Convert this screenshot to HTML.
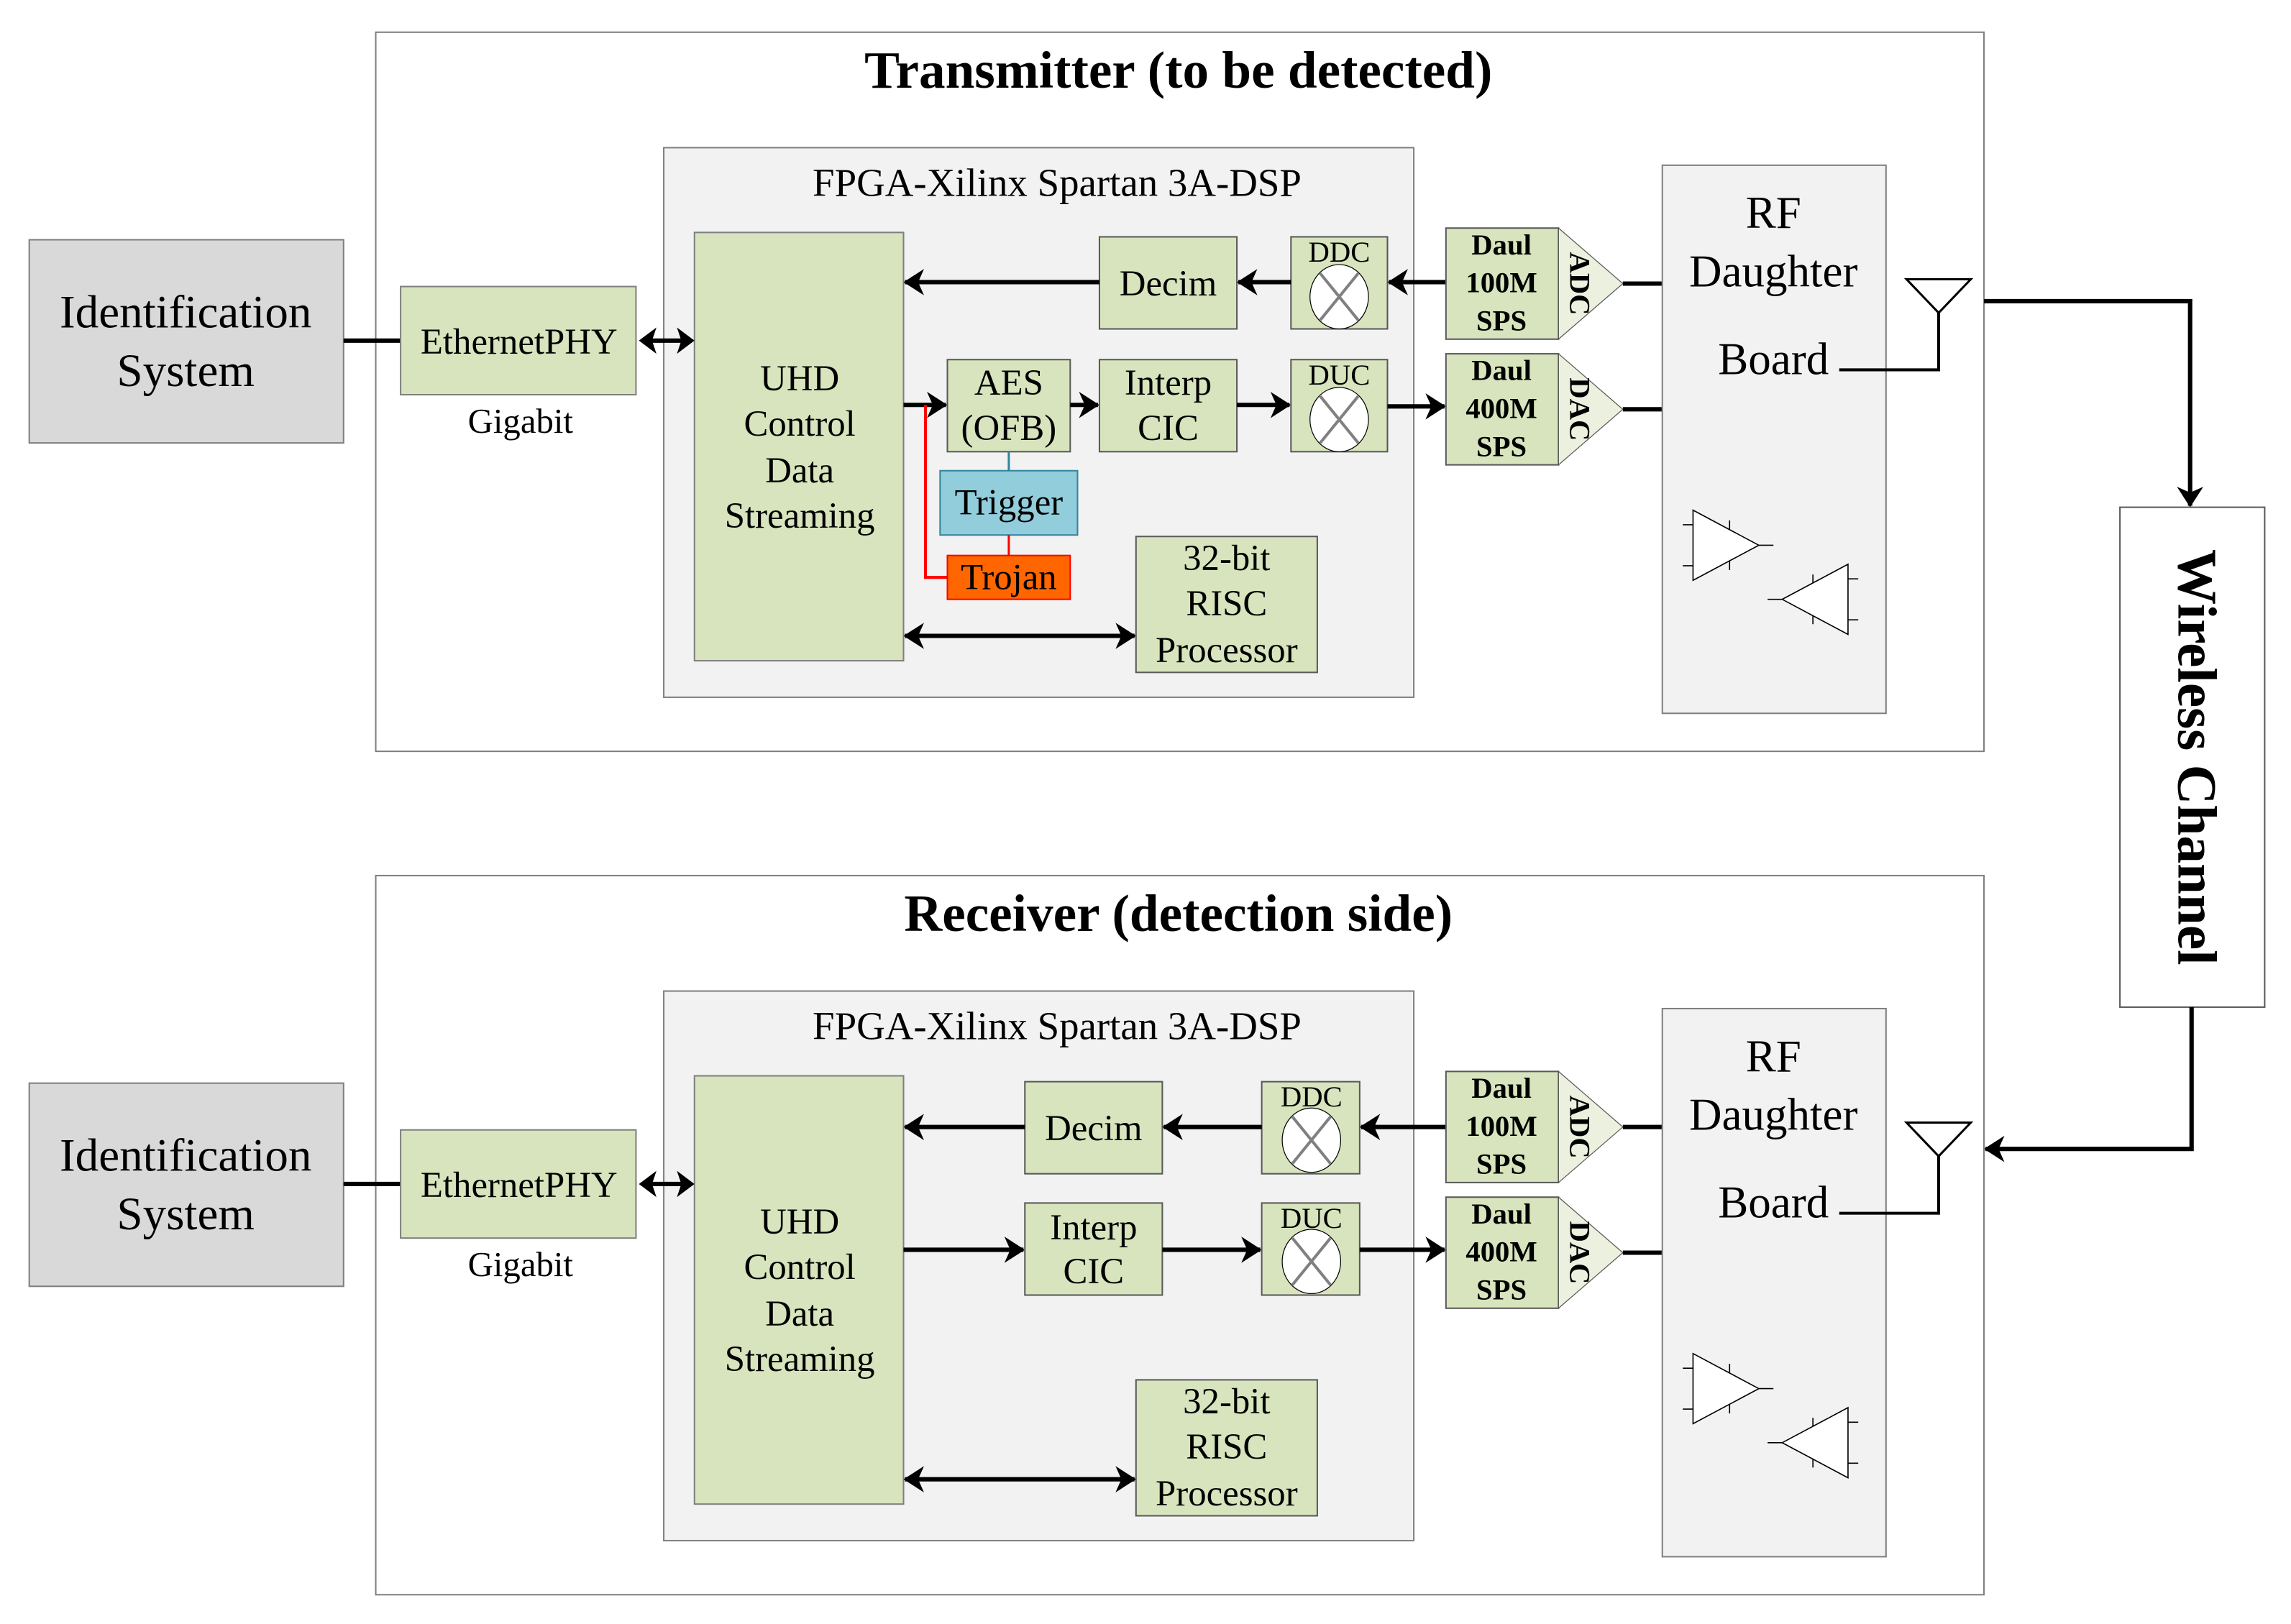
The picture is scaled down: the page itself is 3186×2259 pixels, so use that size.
<!DOCTYPE html>
<html><head><meta charset="utf-8"><style>
html,body{margin:0;padding:0;background:#fff;}
svg{display:block;}
text{font-family:"Liberation Serif",serif;fill:#000;}
</style></head><body>
<svg width="3186" height="2259" viewBox="0 0 1567 1111" xmlns="http://www.w3.org/2000/svg">
<defs>
<marker id="a" markerUnits="userSpaceOnUse" markerWidth="14" markerHeight="18" refX="13" refY="9" orient="auto"><path d="M0,0 L14,9 L0,18 L4,9 Z" fill="#000"/></marker>
<marker id="s" markerUnits="userSpaceOnUse" markerWidth="14" markerHeight="18" refX="1" refY="9" orient="auto"><path d="M14,0 L0,9 L14,18 L10,9 Z" fill="#000"/></marker>
<g id="mix"><ellipse cx="0" cy="0" rx="20" ry="22" fill="#fff" stroke="#000" stroke-width="0.6"/><path d="M-13,-16 L13,16 M13,-16 L-13,16" stroke="#808080" stroke-width="2"/></g>
<g id="amps" fill="#fff" stroke="#000" stroke-width="0.8">
<path d="M1158,349 L1203,373 L1158,397 Z"/><path d="M1151,359 H1158 M1151,387 H1158 M1203,373 H1213 M1183,356 V362 M1183,384 V390" fill="none"/>
<path d="M1264,386 L1219,410 L1264,434 Z"/><path d="M1264,396 H1271 M1264,424 H1271 M1209,410 H1219 M1240,393 V399 M1240,421 V427" fill="none"/>
</g>
<g id="dbl"><line x1="445" y1="0" x2="467" y2="0" stroke="#000" stroke-width="3"/><path d="M437,0 L449,-9 L446,0 L449,9 Z M475,0 L463,-9 L466,0 L463,9 Z" fill="#000"/></g>
</defs>

<!-- ============ TRANSMITTER ============ -->
<rect x="257" y="22" width="1100" height="492" fill="#fff" stroke="#7f7f7f" stroke-width="1"/>
<text x="806" y="60" font-size="36" font-weight="bold" text-anchor="middle">Transmitter (to be detected)</text>
<rect x="20" y="164" width="215" height="139" fill="#d9d9d9" stroke="#7f7f7f"/>
<text x="127" y="224" font-size="32" text-anchor="middle">Identification</text>
<text x="127" y="264" font-size="32" text-anchor="middle">System</text>
<line x1="235" y1="233" x2="274" y2="233" stroke="#000" stroke-width="3"/>
<rect x="274" y="196" width="161" height="74" fill="#d7e4bd" stroke="#7f7f7f"/>
<text x="355" y="242" font-size="25" text-anchor="middle">EthernetPHY</text>
<text x="356" y="296" font-size="24" text-anchor="middle">Gigabit</text>
<rect x="454" y="101" width="513" height="376" fill="#f2f2f2" stroke="#7f7f7f"/>
<text x="723" y="134" font-size="27" text-anchor="middle">FPGA-Xilinx Spartan 3A-DSP</text>
<rect x="475" y="159" width="143" height="293" fill="#d7e4bd" stroke="#7f7f7f"/>
<use href="#dbl" y="233"/>
<g font-size="25" text-anchor="middle"><text x="547" y="267">UHD</text><text x="547" y="298">Control</text><text x="547" y="330">Data</text><text x="547" y="361">Streaming</text></g>
<rect x="752" y="162" width="94" height="63" fill="#d7e4bd" stroke="#595959"/>
<text x="799" y="202" font-size="25" text-anchor="middle">Decim</text>
<line x1="752" y1="193" x2="619" y2="193" stroke="#000" stroke-width="3" marker-end="url(#a)"/>
<rect x="883" y="162" width="66" height="63" fill="#d7e4bd" stroke="#595959"/>
<text x="916" y="179" font-size="20" text-anchor="middle">DDC</text>
<use href="#mix" x="916" y="203"/>
<line x1="883" y1="193" x2="847" y2="193" stroke="#000" stroke-width="3" marker-end="url(#a)"/>
<line x1="989" y1="193" x2="950" y2="193" stroke="#000" stroke-width="3" marker-end="url(#a)"/>
<rect x="989" y="156" width="77" height="76" fill="#d7e4bd" stroke="#595959"/>
<g font-size="20" font-weight="bold" text-anchor="middle"><text x="1027" y="174">Daul</text><text x="1027" y="200">100M</text><text x="1027" y="226">SPS</text></g>
<path d="M1066,156 L1110,194 L1066,232 Z" fill="#ebf1de" stroke="#595959" stroke-width="0.6"/>
<text transform="translate(1074,194) rotate(90)" font-size="20" font-weight="bold" text-anchor="middle">ADC</text>
<line x1="1110" y1="194" x2="1137" y2="194" stroke="#000" stroke-width="3"/>

<line x1="618" y1="277" x2="647" y2="277" stroke="#000" stroke-width="3" marker-end="url(#a)"/>
<rect x="648" y="246" width="84" height="63" fill="#d7e4bd" stroke="#595959"/>
<text x="690" y="270" font-size="25" text-anchor="middle">AES</text><text x="690" y="301" font-size="25" text-anchor="middle">(OFB)</text>
<line x1="732" y1="277" x2="751" y2="277" stroke="#000" stroke-width="3" marker-end="url(#a)"/>
<rect x="752" y="246" width="94" height="63" fill="#d7e4bd" stroke="#595959"/>
<text x="799" y="270" font-size="25" text-anchor="middle">Interp</text><text x="799" y="301" font-size="25" text-anchor="middle">CIC</text>
<line x1="846" y1="277" x2="882" y2="277" stroke="#000" stroke-width="3" marker-end="url(#a)"/>
<rect x="883" y="246" width="66" height="63" fill="#d7e4bd" stroke="#595959"/>
<text x="916" y="263" font-size="20" text-anchor="middle">DUC</text>
<use href="#mix" x="916" y="287"/>
<line x1="949" y1="278" x2="988" y2="278" stroke="#000" stroke-width="3" marker-end="url(#a)"/>
<rect x="989" y="242" width="77" height="76" fill="#d7e4bd" stroke="#595959"/>
<g font-size="20" font-weight="bold" text-anchor="middle"><text x="1027" y="260">Daul</text><text x="1027" y="286">400M</text><text x="1027" y="312">SPS</text></g>
<path d="M1066,242 L1110,280 L1066,318 Z" fill="#ebf1de" stroke="#595959" stroke-width="0.6"/>
<text transform="translate(1074,280) rotate(90)" font-size="20" font-weight="bold" text-anchor="middle">DAC</text>
<line x1="1110" y1="280" x2="1137" y2="280" stroke="#000" stroke-width="3"/>

<line x1="690" y1="309" x2="690" y2="322" stroke="#31859c" stroke-width="1.5"/>
<rect x="643" y="322" width="94" height="44" fill="#92cddc" stroke="#31859c"/>
<text x="690" y="352" font-size="25" text-anchor="middle">Trigger</text>
<line x1="690" y1="366" x2="690" y2="380" stroke="#ff0000" stroke-width="1.5"/>
<path d="M633,277 V395 H648" fill="none" stroke="#ff0000" stroke-width="2"/>
<rect x="648" y="380" width="84" height="30" fill="#ff6600" stroke="#ff0000"/>
<text x="690" y="403" font-size="25" text-anchor="middle">Trojan</text>
<rect x="777" y="367" width="124" height="93" fill="#d7e4bd" stroke="#595959"/>
<g font-size="25" text-anchor="middle"><text x="839" y="390">32-bit</text><text x="839" y="421">RISC</text><text x="839" y="453">Processor</text></g>
<line x1="619" y1="435" x2="776" y2="435" stroke="#000" stroke-width="3" marker-start="url(#s)" marker-end="url(#a)"/>

<rect x="1137" y="113" width="153" height="375" fill="#f2f2f2" stroke="#7f7f7f"/>
<g font-size="31" text-anchor="middle"><text x="1213" y="156">RF</text><text x="1213" y="196">Daughter</text><text x="1213" y="256">Board</text></g>
<path d="M1304,191 L1348,191 L1326,214 Z" fill="#fff" stroke="#000" stroke-width="1.5"/>
<path d="M1326,214 V253 H1258" fill="none" stroke="#000" stroke-width="2"/>
<use href="#amps"/>

<!-- Wireless -->
<rect x="1450" y="347" width="99" height="342" fill="#fff" stroke="#595959"/>
<text transform="translate(1490,518) rotate(90)" font-size="38" font-weight="bold" text-anchor="middle">Wireless Channel</text>
<path d="M1357,206 H1498 V346" fill="none" stroke="#000" stroke-width="3" marker-end="url(#a)"/>
<path d="M1499,689 V786 H1358" fill="none" stroke="#000" stroke-width="3" marker-end="url(#a)"/>

<!-- ============ RECEIVER ============ -->
<rect x="257" y="599" width="1100" height="492" fill="#fff" stroke="#7f7f7f" stroke-width="1"/>
<text x="806" y="637" font-size="36" font-weight="bold" text-anchor="middle">Receiver (detection side)</text>
<rect x="20" y="741" width="215" height="139" fill="#d9d9d9" stroke="#7f7f7f"/>
<text x="127" y="801" font-size="32" text-anchor="middle">Identification</text>
<text x="127" y="841" font-size="32" text-anchor="middle">System</text>
<line x1="235" y1="810" x2="274" y2="810" stroke="#000" stroke-width="3"/>
<rect x="274" y="773" width="161" height="74" fill="#d7e4bd" stroke="#7f7f7f"/>
<text x="355" y="819" font-size="25" text-anchor="middle">EthernetPHY</text>
<text x="356" y="873" font-size="24" text-anchor="middle">Gigabit</text>
<rect x="454" y="678" width="513" height="376" fill="#f2f2f2" stroke="#7f7f7f"/>
<text x="723" y="711" font-size="27" text-anchor="middle">FPGA-Xilinx Spartan 3A-DSP</text>
<rect x="475" y="736" width="143" height="293" fill="#d7e4bd" stroke="#7f7f7f"/>
<use href="#dbl" y="810"/>
<g font-size="25" text-anchor="middle"><text x="547" y="844">UHD</text><text x="547" y="875">Control</text><text x="547" y="907">Data</text><text x="547" y="938">Streaming</text></g>
<rect x="701" y="740" width="94" height="63" fill="#d7e4bd" stroke="#595959"/>
<text x="748" y="780" font-size="25" text-anchor="middle">Decim</text>
<line x1="701" y1="771" x2="619" y2="771" stroke="#000" stroke-width="3" marker-end="url(#a)"/>
<rect x="863" y="740" width="67" height="63" fill="#d7e4bd" stroke="#595959"/>
<text x="897" y="757" font-size="20" text-anchor="middle">DDC</text>
<use href="#mix" x="897" y="780"/>
<line x1="863" y1="771" x2="796" y2="771" stroke="#000" stroke-width="3" marker-end="url(#a)"/>
<line x1="989" y1="771" x2="931" y2="771" stroke="#000" stroke-width="3" marker-end="url(#a)"/>
<rect x="989" y="733" width="77" height="76" fill="#d7e4bd" stroke="#595959"/>
<g font-size="20" font-weight="bold" text-anchor="middle"><text x="1027" y="751">Daul</text><text x="1027" y="777">100M</text><text x="1027" y="803">SPS</text></g>
<path d="M1066,733 L1110,771 L1066,809 Z" fill="#ebf1de" stroke="#595959" stroke-width="0.6"/>
<text transform="translate(1074,771) rotate(90)" font-size="20" font-weight="bold" text-anchor="middle">ADC</text>
<line x1="1110" y1="771" x2="1137" y2="771" stroke="#000" stroke-width="3"/>

<line x1="618" y1="855" x2="700" y2="855" stroke="#000" stroke-width="3" marker-end="url(#a)"/>
<rect x="701" y="823" width="94" height="63" fill="#d7e4bd" stroke="#595959"/>
<text x="748" y="848" font-size="25" text-anchor="middle">Interp</text><text x="748" y="878" font-size="25" text-anchor="middle">CIC</text>
<line x1="795" y1="855" x2="862" y2="855" stroke="#000" stroke-width="3" marker-end="url(#a)"/>
<rect x="863" y="823" width="67" height="63" fill="#d7e4bd" stroke="#595959"/>
<text x="897" y="840" font-size="20" text-anchor="middle">DUC</text>
<use href="#mix" x="897" y="863"/>
<line x1="930" y1="855" x2="988" y2="855" stroke="#000" stroke-width="3" marker-end="url(#a)"/>
<rect x="989" y="819" width="77" height="76" fill="#d7e4bd" stroke="#595959"/>
<g font-size="20" font-weight="bold" text-anchor="middle"><text x="1027" y="837">Daul</text><text x="1027" y="863">400M</text><text x="1027" y="889">SPS</text></g>
<path d="M1066,819 L1110,857 L1066,895 Z" fill="#ebf1de" stroke="#595959" stroke-width="0.6"/>
<text transform="translate(1074,857) rotate(90)" font-size="20" font-weight="bold" text-anchor="middle">DAC</text>
<line x1="1110" y1="857" x2="1137" y2="857" stroke="#000" stroke-width="3"/>

<rect x="777" y="944" width="124" height="93" fill="#d7e4bd" stroke="#595959"/>
<g font-size="25" text-anchor="middle"><text x="839" y="967">32-bit</text><text x="839" y="998">RISC</text><text x="839" y="1030">Processor</text></g>
<line x1="619" y1="1012" x2="776" y2="1012" stroke="#000" stroke-width="3" marker-start="url(#s)" marker-end="url(#a)"/>

<rect x="1137" y="690" width="153" height="375" fill="#f2f2f2" stroke="#7f7f7f"/>
<g font-size="31" text-anchor="middle"><text x="1213" y="733">RF</text><text x="1213" y="773">Daughter</text><text x="1213" y="833">Board</text></g>
<path d="M1304,768 L1348,768 L1326,791 Z" fill="#fff" stroke="#000" stroke-width="1.5"/>
<path d="M1326,791 V830 H1258" fill="none" stroke="#000" stroke-width="2"/>
<use href="#amps" y="577"/>
</svg>
</body></html>
